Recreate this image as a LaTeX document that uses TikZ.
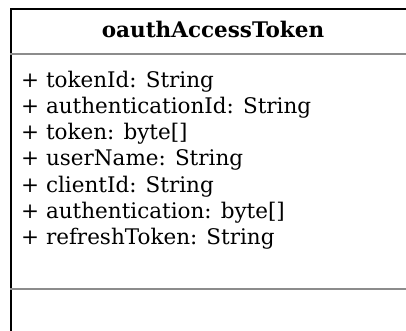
\documentclass[tikz,border=0pt]{standalone}
\usepackage{fontspec}
\setmainfont{DejaVu Serif}
\usetikzlibrary{positioning}
\begin{document}
\begin{tikzpicture}[
        x=1pt, y=1pt,
        every node/.style={inner sep=0pt},
        classbox/.style={draw=black, line width=1.6pt, minimum width=406pt, minimum height=400pt, anchor=north west},
        titletext/.style={font=\fontsize{21.5}{26}\selectfont\bfseries, anchor=base},
        attrtext/.style={font=\fontsize{21.5}{26}\selectfont, anchor=base west},
        sepline/.style={draw=black!45, line width=1.6pt}
        ]
        \useasboundingbox (0,0) rectangle (406,-330);

        % class box
        \node[classbox] (cls) at (10,-8) {};
        \node[titletext] (title) at (213,-37) {oauthAccessToken};

        % attributes
        \foreach \txt [count=\i] in {{+ tokenId: String}, {+ authenticationId: String},
            {+ token: byte[]}, {+ userName: String}, {+ clientId: String},
            {+ authentication: byte[]}, {+ refreshToken: String}}
            \node[attrtext] (attr\i) at (21,-87-26.3*\i+26.3) {\txt};

        % compartments
        \coordinate (hsep) at (10,-54);
        \coordinate (msep) at (10,-289);
        \draw[sepline] (hsep) -- (hsep -| cls.east);
        \draw[sepline] (msep) -- (msep -| cls.east);
    \end{tikzpicture}
\end{document}
